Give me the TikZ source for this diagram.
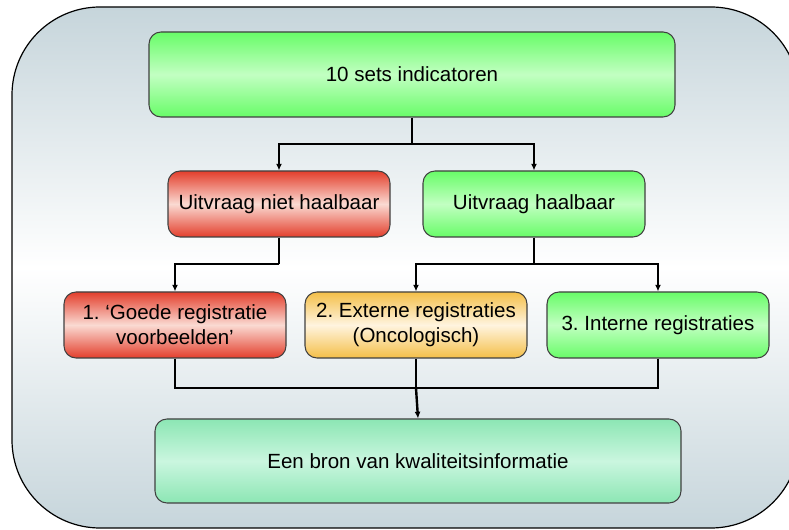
\documentclass[tikz,border=0pt]{standalone}
\usepackage{fontspec}
\setmainfont{Liberation Sans}
\usetikzlibrary{arrows.meta}
\frenchspacing
\definecolor{bgd}{HTML}{C6D5DB}
\definecolor{grnd}{HTML}{68FC68}
\definecolor{grnl}{HTML}{C2FFC2}
\definecolor{redd}{HTML}{E33E2C}
\definecolor{redl}{HTML}{FADAD2}
\definecolor{orad}{HTML}{F4BF48}
\definecolor{oral}{HTML}{FFF4DF}
\definecolor{teald}{HTML}{8CE6B4}
\definecolor{teall}{HTML}{CAF6DF}
\definecolor{edge}{HTML}{404040}
\tikzset{
  box/.style={draw=edge, line width=0.8pt, rounded corners=9pt, align=center,
    font=\fontsize{15.4}{18.75}\selectfont\frenchspacing, inner sep=0pt},
  smallbox/.style={box, minimum width=166.5pt, minimum height=49.5pt},
  greenfill/.style={top color=grnd, bottom color=grnd, middle color=grnl},
  redfill/.style={top color=redd, bottom color=redd, middle color=redl},
  orangefill/.style={top color=orad, bottom color=orad, middle color=oral},
  tealfill/.style={top color=teald, bottom color=teald, middle color=teall},
  conn/.style={line width=1.2pt, black},
  arr/.style={conn, -{Latex[length=5pt,width=4.5pt]}}
}
\begin{document}
\begin{tikzpicture}[x=0.75pt, y=-0.75pt]
\useasboundingbox (0,0) rectangle (789,530);
\clip (0,0) rectangle (789,530);
\draw[line width=0.9pt, black, rounded corners=66pt, top color=bgd, bottom color=bgd, middle color=white]
  (12,7) rectangle (799,528);

\node[box, greenfill, minimum width=394.5pt, minimum height=63.75pt] (top) at (412,74.5) {10 sets indicatoren};
\node[smallbox, redfill] (nh) at (279,204) {Uitvraag niet haalbaar};
\node[smallbox, greenfill] (h) at (534,204) {Uitvraag haalbaar};
\node[smallbox, redfill] (b1) at (175,325) {1. ‘Goede registratie\\voorbeelden’};
\node[smallbox, orangefill] (b2) at (416,325) {2. Externe registraties\\(Oncologisch)};
\node[smallbox, greenfill] (b3) at (658,325) {3. Interne registraties};
\node[box, tealfill, minimum width=394.5pt, minimum height=63pt] (bot) at (418,461) {Een bron van kwaliteitsinformatie};

\coordinate (j1) at (412,144);
\coordinate (j2) at (279,264);
\coordinate (j3) at (534,264);
\coordinate (j4) at (416,388);

\draw[conn] (top.south) -- (j1);
\draw[arr] (j1) -| (nh.north);
\draw[arr] (j1) -| (h.north);

\draw[conn] (nh.south) -- (j2);
\draw[arr] (j2) -| (b1.north);

\draw[conn] (h.south) -- (j3);
\draw[arr] (j3) -| (b2.north);
\draw[arr] (j3) -| (b3.north);

\draw[conn] (b1.south) |- (j4);
\draw[conn] (b3.south) |- (j4);
\draw[conn] (b2.south) -- (j4);
\draw[arr, line width=1.8pt] (j4) -- (bot.north);
\end{tikzpicture}
\end{document}
